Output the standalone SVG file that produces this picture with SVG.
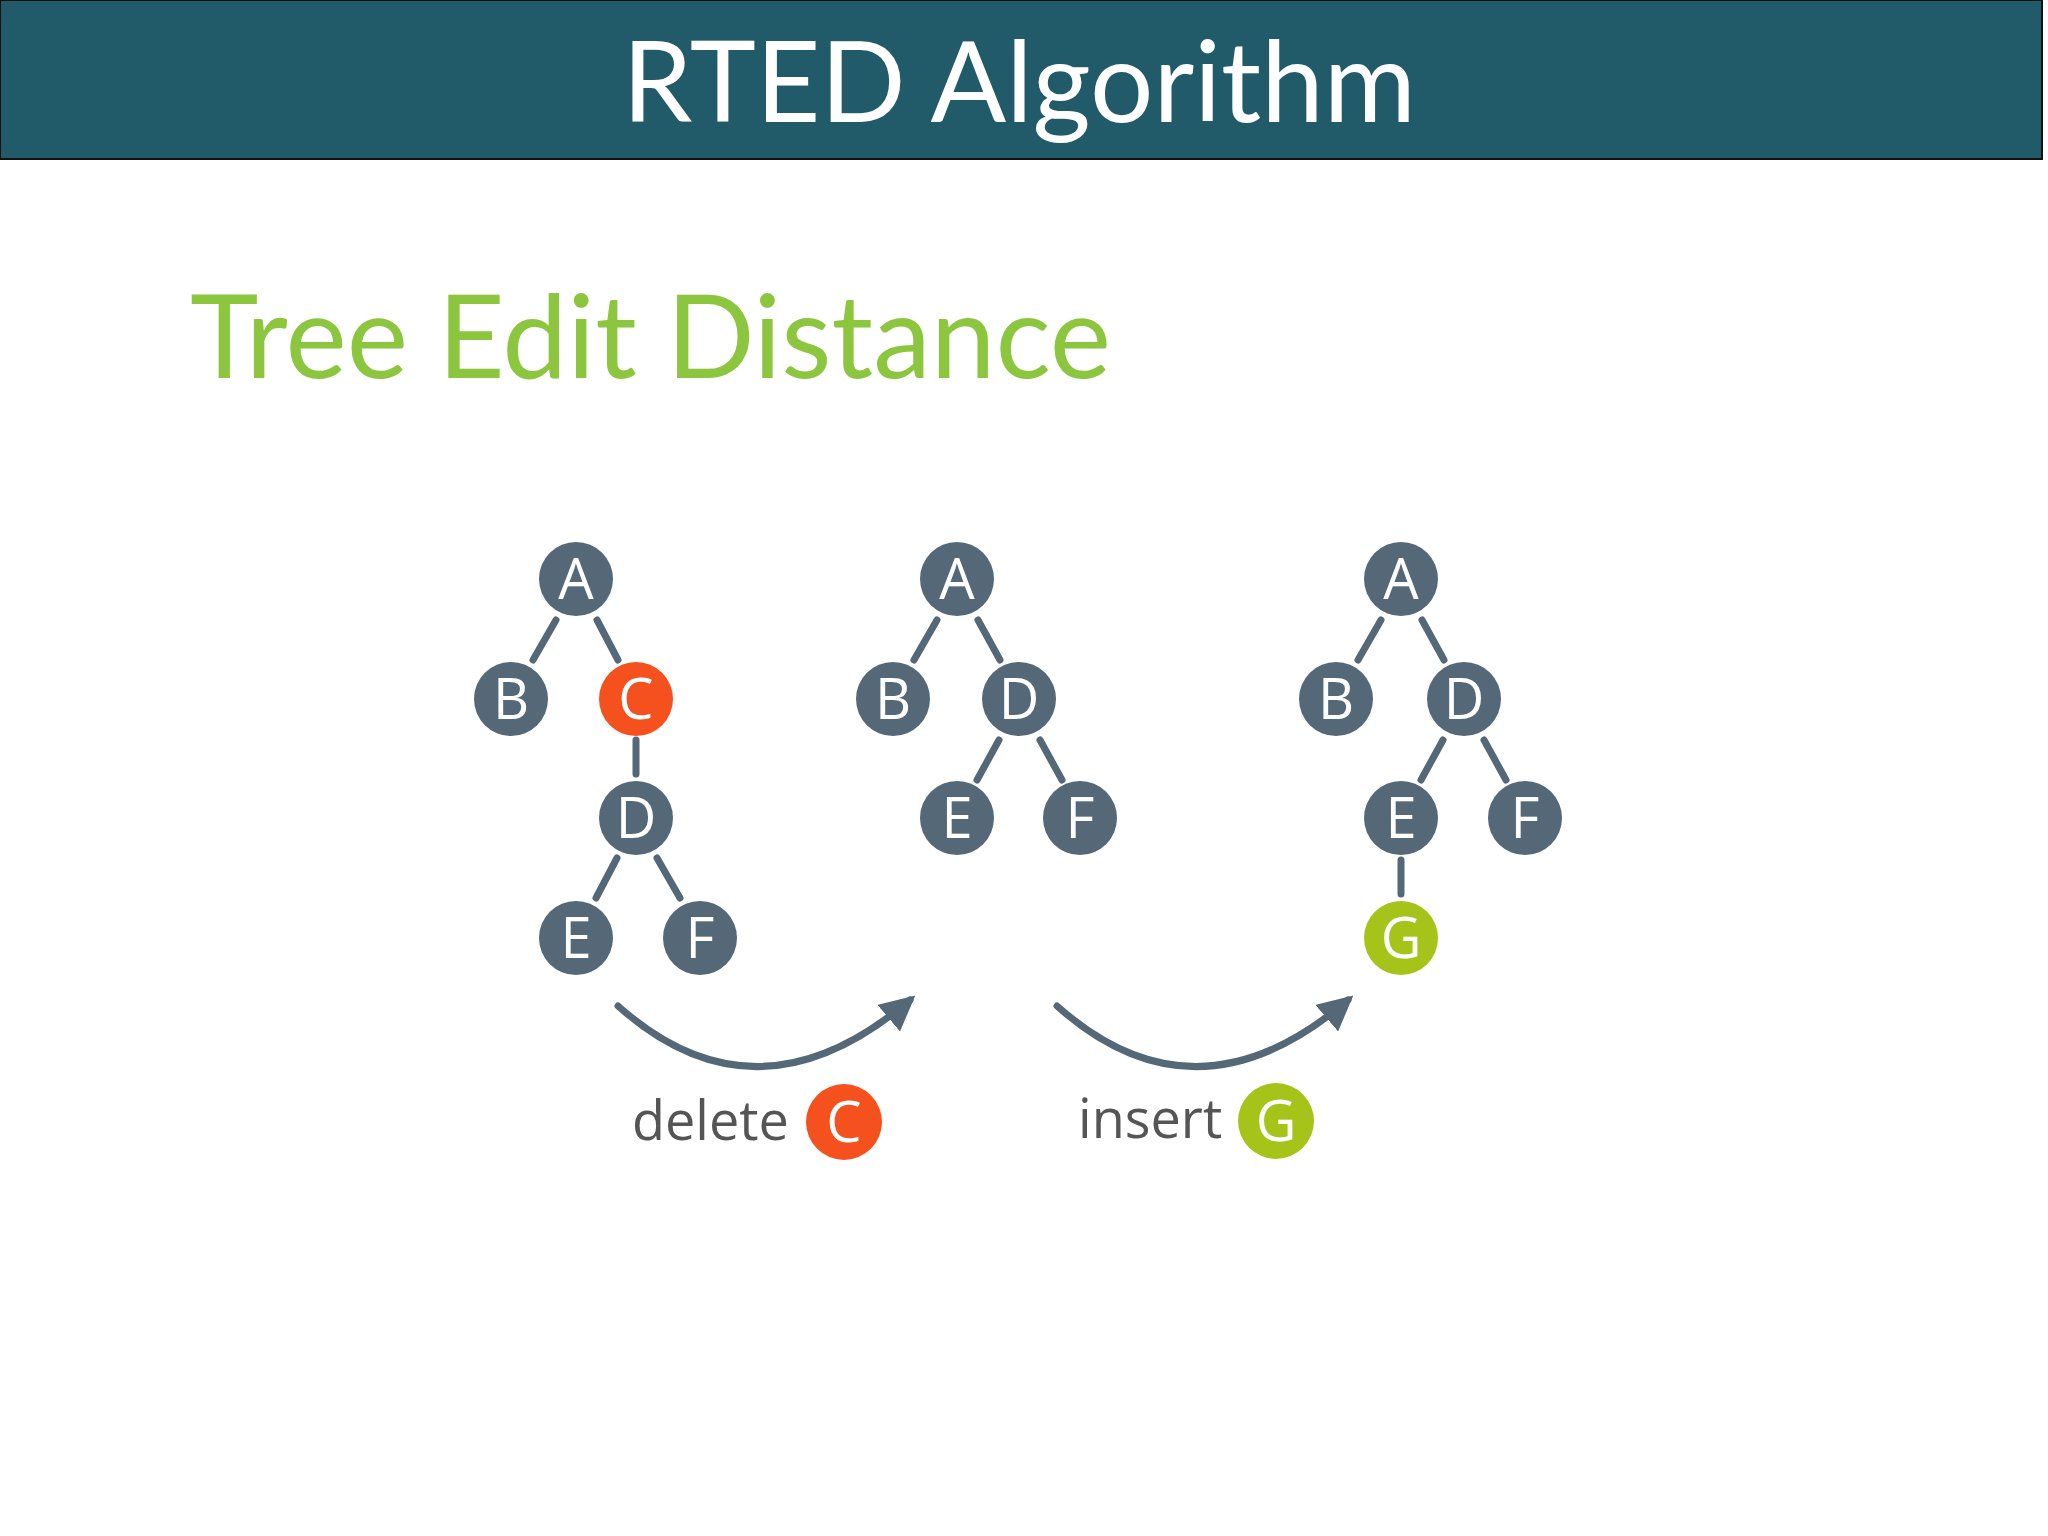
<svg xmlns="http://www.w3.org/2000/svg" width="2048" height="1536" viewBox="0 0 2048 1536">
<defs>
<style>
.n{fill:#546878}
.t{font-family:"Open Sans","DejaVu Sans",sans-serif;font-size:56px;fill:#fff;text-anchor:middle}
.e{stroke:#546878;stroke-width:7;stroke-linecap:round;fill:none}
.lbl{font-family:"Open Sans","DejaVu Sans",sans-serif;font-size:54px;fill:#555}
</style>
<marker id="ah" viewBox="0 0 10 10" refX="8" refY="5" markerWidth="5" markerHeight="5" orient="auto"><path d="M0,0 L10,5 L0,10 z" fill="#546878"/></marker>
</defs>
<rect width="2048" height="1536" fill="#fff"/>
<rect x="0" y="0" width="2042" height="159" fill="#215a69" stroke="#111" stroke-width="2"/>
<text x="1019" y="122" font-family="Lato,'Open Sans',sans-serif" font-size="112" fill="#fff" text-anchor="middle">RTED Algorithm</text>
<text x="190" y="378" font-family="Lato,'Open Sans',sans-serif" font-size="116" fill="#8cc63f">Tree Edit Distance</text>
<g id="connectors">
<line class="e" x1="556" y1="620" x2="533" y2="660"/><line class="e" x1="597" y1="620" x2="618" y2="660"/>
<line class="e" x1="636" y1="740" x2="636" y2="774"/>
<line class="e" x1="617" y1="858" x2="596" y2="898"/><line class="e" x1="657" y1="858" x2="680" y2="898"/>
<line class="e" x1="937" y1="620" x2="914" y2="660"/><line class="e" x1="978" y1="620" x2="1000" y2="660"/>
<line class="e" x1="999" y1="740" x2="977" y2="780"/><line class="e" x1="1040" y1="740" x2="1062" y2="780"/>
<line class="e" x1="1381" y1="620" x2="1358" y2="660"/><line class="e" x1="1422" y1="620" x2="1444" y2="660"/>
<line class="e" x1="1443" y1="740" x2="1421" y2="780"/><line class="e" x1="1484" y1="740" x2="1506" y2="780"/>
<line class="e" x1="1401" y1="860" x2="1401" y2="894"/>
<path class="e" d="M618,1006 Q757,1130 910,1000" marker-end="url(#ah)"/>
<path class="e" d="M1057,1006 Q1196,1130 1348,1000" marker-end="url(#ah)"/>
</g>
<g id="t1">
<g id="t1A"><circle class="n" cx="576" cy="579" r="37"/><text class="t" x="576" y="599">A</text></g>
<g id="t1B"><circle class="n" cx="511" cy="699" r="37"/><text class="t" x="511" y="719">B</text></g>
<g id="t1C"><circle cx="636" cy="699" r="37" fill="#f4511e"/><text class="t" x="636" y="719">C</text></g>
<g id="t1D"><circle class="n" cx="636" cy="818" r="37"/><text class="t" x="636" y="838">D</text></g>
<g id="t1E"><circle class="n" cx="576" cy="938" r="37"/><text class="t" x="576" y="958">E</text></g>
<g id="t1F"><circle class="n" cx="700" cy="938" r="37"/><text class="t" x="700" y="958">F</text></g>
</g>
<g id="t2">
<g id="t2A"><circle class="n" cx="957" cy="579" r="37"/><text class="t" x="957" y="599">A</text></g>
<g id="t2B"><circle class="n" cx="893" cy="699" r="37"/><text class="t" x="893" y="719">B</text></g>
<g id="t2D"><circle class="n" cx="1019" cy="699" r="37"/><text class="t" x="1019" y="719">D</text></g>
<g id="t2E"><circle class="n" cx="957" cy="818" r="37"/><text class="t" x="957" y="838">E</text></g>
<g id="t2F"><circle class="n" cx="1080" cy="818" r="37"/><text class="t" x="1080" y="838">F</text></g>
</g>
<g id="t3">
<g id="t3A"><circle class="n" cx="1401" cy="579" r="37"/><text class="t" x="1401" y="599">A</text></g>
<g id="t3B"><circle class="n" cx="1336" cy="699" r="37"/><text class="t" x="1336" y="719">B</text></g>
<g id="t3D"><circle class="n" cx="1464" cy="699" r="37"/><text class="t" x="1464" y="719">D</text></g>
<g id="t3E"><circle class="n" cx="1401" cy="818" r="37"/><text class="t" x="1401" y="838">E</text></g>
<g id="t3F"><circle class="n" cx="1525" cy="818" r="37"/><text class="t" x="1525" y="838">F</text></g>
<g id="t3G"><circle cx="1401" cy="938" r="37" fill="#a6c31a"/><text class="t" x="1401" y="958">G</text></g>
</g>
<g id="labels">
<text class="lbl" x="632" y="1140">delete</text>
<circle cx="844" cy="1122" r="38" fill="#f4511e"/><text class="t" x="844" y="1142">C</text>
<text class="lbl" x="1078" y="1138">insert</text>
<circle cx="1276" cy="1121" r="38" fill="#a6c31a"/><text class="t" x="1276" y="1141">G</text>
</g>
</svg>
